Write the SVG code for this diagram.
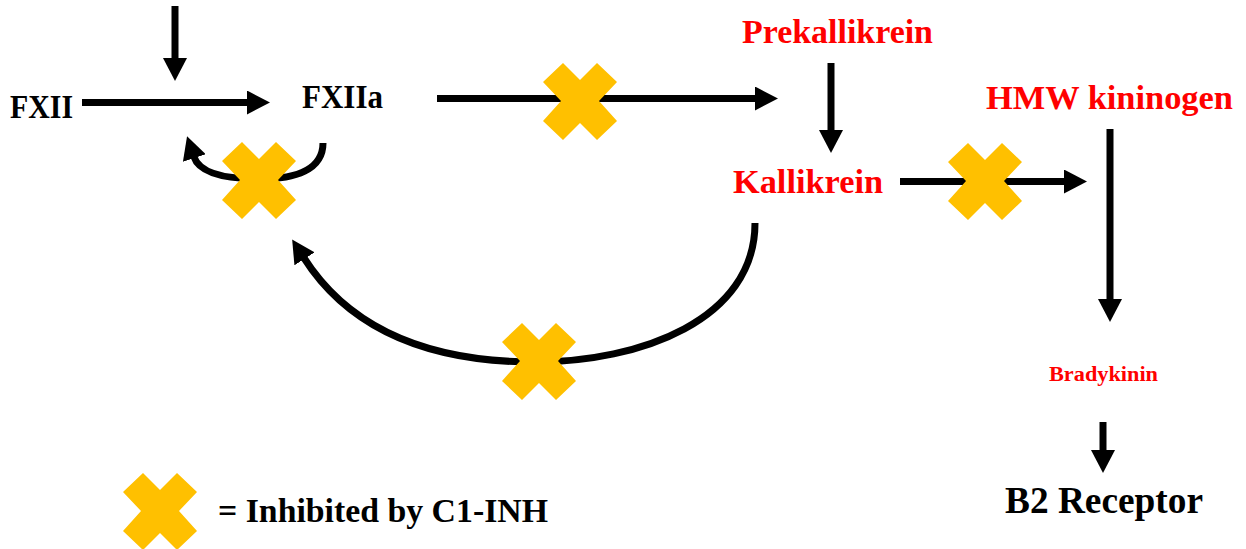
<svg xmlns="http://www.w3.org/2000/svg" width="1246" height="549" viewBox="0 0 1246 549">
<style>
.t{font-family:"Liberation Serif","DejaVu Serif",serif;font-weight:bold}
.k{fill:#000}
.r{fill:#FF0000}
.c{stroke:#000;stroke-width:7;fill:none}
.x{fill:#FFC000}
</style>
<defs>
<marker id="ah" viewBox="0 0 23 24" refX="1" refY="12" markerWidth="23" markerHeight="24" markerUnits="userSpaceOnUse" orient="auto">
<path d="M0,0 L23,12 L0,24 z" fill="#000"/>
</marker>
<polygon id="xm" points="-17,-38 0,-21 17,-38 37,-19 19,0 37,20 17,39 0,22 -17,39 -37,20 -19,0 -37,-19"/>
</defs>
<rect width="1246" height="549" fill="#fff"/>
<g id="connectors">
<line class="c" x1="175" y1="6" x2="175" y2="59" marker-end="url(#ah)"/>
<line class="c" x1="82" y1="102.5" x2="248" y2="102.5" marker-end="url(#ah)"/>
<line class="c" x1="437" y1="98.5" x2="756" y2="98.5" marker-end="url(#ah)"/>
<line class="c" x1="831" y1="63" x2="831" y2="131" marker-end="url(#ah)"/>
<line class="c" x1="900" y1="181.5" x2="1065" y2="181.5" marker-end="url(#ah)"/>
<line class="c" x1="1110" y1="129" x2="1110" y2="300" marker-end="url(#ah)"/>
<line class="c" x1="1103" y1="422" x2="1103" y2="451" marker-end="url(#ah)"/>
<path class="c" d="M323,143 C323,170 295,179 260,179 C230,179 200,175 194,157" marker-end="url(#ah)"/>
<path class="c" d="M755,223 C755,320 640,362 535,362 C430,362 350,330 304,258" marker-end="url(#ah)"/>
</g>
<g id="inhibitors">
<use href="#xm" class="x" x="580" y="101"/>
<use href="#xm" class="x" x="259" y="180"/>
<use href="#xm" class="x" x="985" y="181"/>
<use href="#xm" class="x" x="539" y="361"/>
</g>
<g id="node-fxii"><text class="t k" x="10" y="118" font-size="33" textLength="63" lengthAdjust="spacingAndGlyphs">FXII</text></g>
<g id="node-fxiia"><text class="t k" x="302" y="108" font-size="33" textLength="81" lengthAdjust="spacingAndGlyphs">FXIIa</text></g>
<g id="node-prekallikrein"><text class="t r" x="742" y="43" font-size="33" textLength="191" lengthAdjust="spacingAndGlyphs">Prekallikrein</text></g>
<g id="node-kallikrein"><text class="t r" x="733" y="193" font-size="33" textLength="150" lengthAdjust="spacingAndGlyphs">Kallikrein</text></g>
<g id="node-hmw"><text class="t r" x="986" y="109" font-size="33" textLength="247" lengthAdjust="spacingAndGlyphs">HMW kininogen</text></g>
<g id="node-bradykinin"><text class="t r" x="1049" y="381" font-size="20" textLength="109" lengthAdjust="spacingAndGlyphs">Bradykinin</text></g>
<g id="node-b2"><text class="t k" x="1005" y="513" font-size="38" textLength="198" lengthAdjust="spacingAndGlyphs">B2 Receptor</text></g>
<g id="legend">
<use href="#xm" class="x" x="160" y="511"/>
<text class="t k" x="218" y="522" font-size="34" textLength="330" lengthAdjust="spacingAndGlyphs">= Inhibited by C1-INH</text>
</g>
</svg>
